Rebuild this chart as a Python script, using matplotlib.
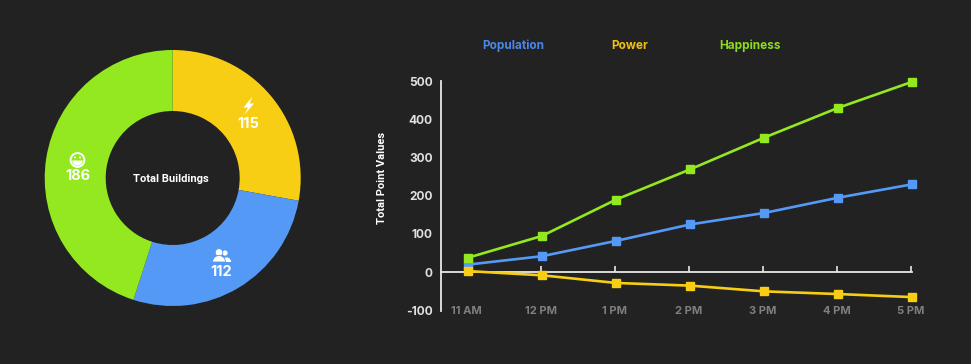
import matplotlib
matplotlib.use('Agg')
import matplotlib.pyplot as plt
from matplotlib.patches import Circle, Polygon, Wedge

# donut
building_names = ['Power', 'Population', 'Happiness']
building_counts = [115, 112, 186]

# lines
hours = ['11 AM', '12 PM', '1 PM', '2 PM', '3 PM', '4 PM', '5 PM']
population = [20, 42, 82, 125, 155, 195, 230]
power = [3, -8, -28, -35, -50, -57, -65]
happiness = [38, 95, 190, 269, 352, 430, 498]
yticks = [-100, 0, 100, 200, 300, 400, 500]

BG = '#222222'
BLUE = '#5599F7'
YELLOW = '#F7CE14'
GREEN = '#93E81F'
W, H = 971, 364
FONT = 'Inter'

def px_axes(x0, y0, x1, y1):
    # pixel box, y from top
    return fig.add_axes([x0 / W, 1 - y1 / H, (x1 - x0) / W, (y1 - y0) / H])

fig = plt.figure(figsize=(W / 100, H / 100), dpi=100, facecolor=BG)

# donut
ax_pie = px_axes(172.7 - 128, 178 - 128, 172.7 + 128, 178 + 128)
ax_pie.pie(building_counts, colors=[YELLOW, BLUE, GREEN], startangle=90, counterclock=False,
           radius=1, wedgeprops=dict(width=61 / 128, linewidth=0))
ax_pie.set_xlim(-1, 1)
ax_pie.set_ylim(-1, 1)

# line chart
ax = px_axes(441, 81, 912.3, 310.5)
ax.set_facecolor('none')
for vals, col in [(population, BLUE), (happiness, GREEN), (power, YELLOW)]:
    ax.plot(range(len(hours)), vals, color=col, linewidth=1.9, marker='s', markersize=5.5,
            clip_on=False, zorder=5, solid_joinstyle='round')
ax.set_xlim(-27 / 74, 6)
ax.set_ylim(-100, 500)
ax.spines['top'].set_visible(False)
ax.spines['right'].set_visible(False)
ax.spines['bottom'].set_position(('data', 0))
ax.spines['bottom'].set_color('#E8E8E8')
ax.spines['left'].set_color('#E8E8E8')
ax.spines['bottom'].set_linewidth(1.3)
ax.spines['left'].set_linewidth(1.3)
# labels and ticks sit about a pixel left of the points in the original
ax.set_xticks([i - 0.018 for i in range(len(hours))])
ax.set_xticklabels(hours, family=FONT, fontweight='bold', fontsize=8, color='#7F7F7F')
ax.set_yticks(yticks)
ax.set_yticklabels([str(v) for v in yticks], family=FONT, fontweight='bold', fontsize=8.6, color='#E0E0E0')
ax.tick_params(axis='x', direction='in', length=4, width=1.2, color='#E8E8E8', pad=24)
ax.tick_params(axis='y', length=0, pad=6)

# overlay in pixel coordinates for text and icons
ov = fig.add_axes([0, 0, 1, 1])
ov.set_xlim(0, W)
ov.set_ylim(H, 0)
ov.axis('off')

ov.text(171, 178.5, 'Total Buildings', family='Roboto', fontweight='bold', fontsize=8, color='white',
        ha='center', va='center')
ov.text(382, 178, 'Total Point Values', family='Roboto', fontweight='bold', fontsize=8, color='white',
        rotation=90, ha='center', va='center')

for name, x, col in [('Population', 513, '#4A88E8'), ('Power', 630, '#F0C010'), ('Happiness', 750, '#8CDC1E')]:
    ov.text(x, 46, name, family=FONT, fontweight='bold', fontsize=8.5, color=col, ha='center', va='center')

for val, x, y in zip(building_counts, [248, 221, 77.7], [124.5, 271.5, 176]):
    ov.text(x, y, str(val), family=FONT, fontweight='bold', fontsize=10.5, color='white', ha='center', va='center')

# bolt icon
ov.add_patch(Polygon([(252.5, 96.5), (243.5, 107.5), (248, 107.5), (244.5, 114.5), (254, 103.5), (249.5, 103.5)],
                     closed=True, fc='white', ec='none'))
# smile icon
ov.add_patch(Circle((77.5, 160), 6.9, fc='none', ec='white', lw=1.4))
ov.add_patch(Wedge((77.5, 160.5), 5.2, 0, 180, fc='white', ec='none'))
ov.add_patch(Circle((75, 157.5), 1, fc='white', ec='none'))
ov.add_patch(Circle((80, 157.5), 1, fc='white', ec='none'))
# people icon
ov.add_patch(Circle((225, 253), 2.6, fc='white', ec='none'))
ov.add_patch(Wedge((226.5, 262), 4.6, 180, 360, fc='white', ec='none'))
ov.add_patch(Circle((219, 252.5), 3.8, fc='white', ec=BLUE, lw=0.6))
ov.add_patch(Wedge((219, 262), 6.5, 180, 360, fc='white', ec=BLUE, lw=0.6))

fig.savefig('out.png', dpi=100, facecolor=BG)
